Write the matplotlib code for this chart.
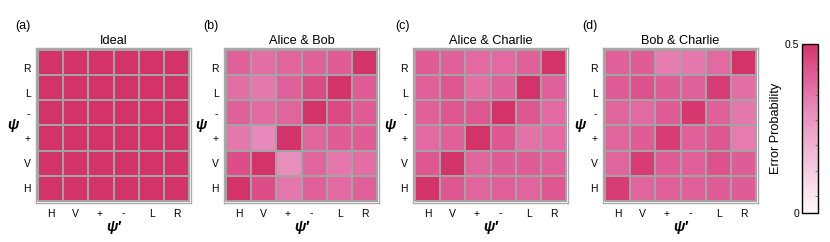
import numpy as np
import matplotlib
matplotlib.use("Agg")
import matplotlib.pyplot as plt
from matplotlib.colors import LinearSegmentedColormap

plt.rcParams['font.family'] = ['Liberation Sans', 'DejaVu Sans']

# states, bottom (H) to top (R) on y, left to right on x
states = ['H', 'V', '+', '-', 'L', 'R']
titles = ['Ideal', 'Alice & Bob', 'Alice & Charlie', 'Bob & Charlie']
panel_tags = ['(a)', '(b)', '(c)', '(d)']

# error probabilities, rows = psi (H..R), cols = psi' (H..R)
ideal = [[0.5] * 6 for _ in range(6)]

alice_bob = [
    [0.50, 0.44, 0.35, 0.40, 0.38, 0.40],
    [0.44, 0.50, 0.30, 0.39, 0.35, 0.37],
    [0.35, 0.31, 0.50, 0.39, 0.41, 0.41],
    [0.40, 0.38, 0.39, 0.50, 0.45, 0.41],
    [0.37, 0.35, 0.40, 0.45, 0.50, 0.41],
    [0.40, 0.37, 0.39, 0.40, 0.41, 0.50],
]

alice_charlie = [
    [0.50, 0.42, 0.39, 0.40, 0.39, 0.42],
    [0.42, 0.50, 0.39, 0.41, 0.41, 0.40],
    [0.38, 0.40, 0.50, 0.42, 0.36, 0.38],
    [0.40, 0.42, 0.42, 0.50, 0.42, 0.38],
    [0.40, 0.42, 0.37, 0.40, 0.50, 0.40],
    [0.41, 0.40, 0.38, 0.38, 0.40, 0.50],
]

bob_charlie = [
    [0.48, 0.39, 0.40, 0.40, 0.41, 0.41],
    [0.39, 0.48, 0.41, 0.40, 0.43, 0.41],
    [0.39, 0.41, 0.48, 0.40, 0.42, 0.34],
    [0.39, 0.38, 0.41, 0.49, 0.40, 0.35],
    [0.41, 0.43, 0.41, 0.40, 0.48, 0.37],
    [0.40, 0.41, 0.34, 0.35, 0.38, 0.50],
]

panels = [ideal, alice_bob, alice_charlie, bob_charlie]

cmap = LinearSegmentedColormap.from_list(
    'err', [(0.0, '#FFF8FB'), (0.6, '#E88EBD'), (0.8, '#E0609A'),
            (0.9, '#DC4A84'), (1.0, '#D4336A')])

fig = plt.figure(figsize=(8.3, 2.42), dpi=100)

lefts = [36, 224, 413, 603]
tag_x = [15, 203, 395, 582]
xtick_pos = [0, 1, 1.93, 2.9, 4.03, 5]
ytick_pos = [0, 1, 2, 3, 3.8, 4.8]
gray = '#A3A3A3'

for i, data in enumerate(panels):
    ax = fig.add_axes([lefts[i] / 830, 1 - 203 / 242, 155 / 830, 155 / 242])
    m = ax.pcolormesh(np.arange(7) - 0.5, np.arange(7) - 0.5, np.array(data),
                      cmap=cmap, vmin=0, vmax=0.5,
                      edgecolor=gray, linewidth=1.3)
    ax.set_xlim(-0.58, 5.58)
    ax.set_ylim(-0.58, 5.58)
    for s in ax.spines.values():
        s.set_color('#AAAAAA')
        s.set_linewidth(1.0)
    ax.set_xticks(xtick_pos)
    ax.set_xticklabels(states, fontsize=7.5)
    ax.set_yticks(ytick_pos)
    ax.set_yticklabels(states, fontsize=7.5)
    ax.tick_params(length=0, pad=4)
    ax.set_title(titles[i], fontsize=9.2, pad=3)
    ax.set_xlabel("ψ′", fontsize=10.5, fontweight='bold', style='italic',
                  labelpad=1)
    ax.set_ylabel("ψ", fontsize=10.5, fontweight='bold', style='italic',
                  rotation=0, labelpad=7, va='center')
    fig.text(tag_x[i] / 830, 1 - 26 / 242, panel_tags[i], fontsize=9,
             va='center', ha='left')

cax = fig.add_axes([802 / 830, 1 - 213 / 242, 16 / 830, 169 / 242])
cb = fig.colorbar(m, cax=cax)
cb.outline.set_linewidth(1.0)
cb.set_ticks([0, 0.5])
cb.set_ticklabels(['0', '0.5'])
cax.yaxis.set_ticks_position('left')
cax.yaxis.set_label_position('left')
cax.tick_params(length=0, labelsize=7.5, pad=2)
cax.set_yticks([0.05, 0.125, 0.2, 0.275, 0.35, 0.425], minor=True)
cax.tick_params(which='minor', length=2, width=0.5, direction='in',
                right=True, left=False, color='#555555')
cb.set_label('Error Probability', fontsize=9.2, labelpad=2)

fig.savefig('out.png', dpi=100)
